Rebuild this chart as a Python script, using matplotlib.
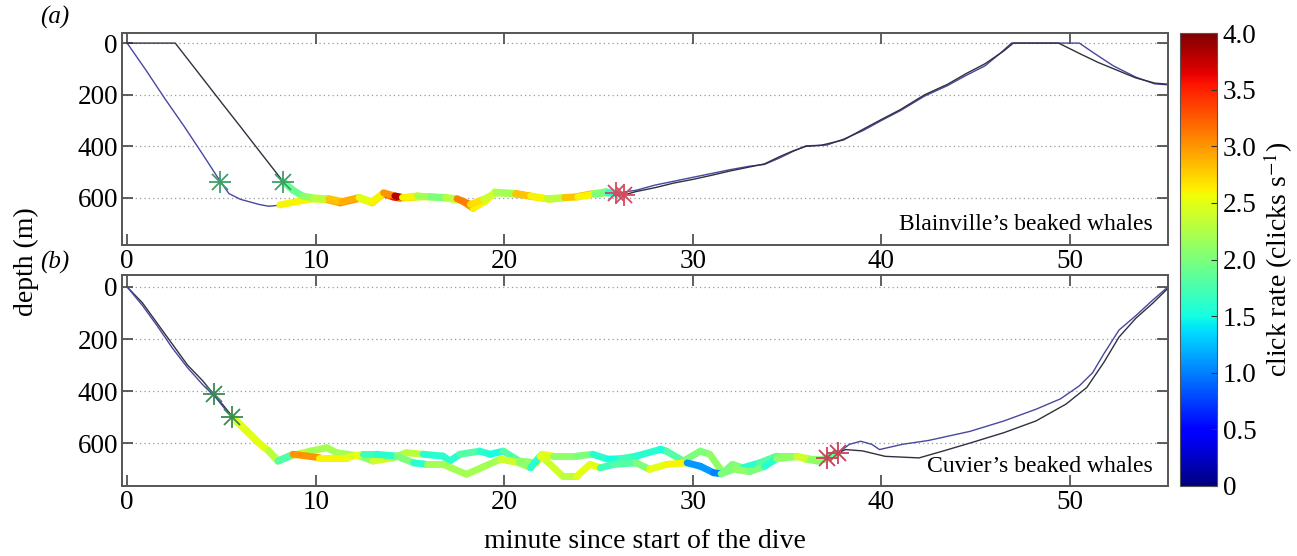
import numpy as np
import matplotlib
matplotlib.use("Agg")
from matplotlib import pyplot as plt
from matplotlib.collections import LineCollection
from matplotlib.colors import Normalize

plt.rcParams['font.family'] = ['Liberation Serif', 'DejaVu Serif']
plt.rcParams['mathtext.fontset'] = 'stix'

############## Data ##############

# (a) Blainville's beaked whales
a1_desc_x = [0, 1, 2, 3, 4, 4.95, 5.4, 6, 7, 7.5, 8.1]
a1_desc_y = [0, 105, 215, 320, 430, 537, 583, 605, 625, 632, 628]
a2_desc_x = [0, 2.55, 4, 5, 6, 7, 8.28]
a2_desc_y = [0, 0, 136, 230, 323, 417, 537]

a1_x = [8.1, 9.0, 9.8, 10.6, 11.3, 12.3, 13.0, 13.6, 14.1, 14.5, 15.3, 16.0, 17.0,
        17.8, 18.35, 19.0, 19.5, 20.6, 21.5, 22.4, 23.2, 23.9, 24.7, 25.4, 25.95]
a1_y = [627, 614, 604, 607, 619, 602, 619, 584, 596, 601, 597, 595, 601,
        612, 640, 612, 577, 582, 595, 605, 600, 594, 583, 576, 581]
a1_rate = [2.6, 2.6, 2.4, 2.9, 3.0, 2.6, 2.7, 3.2, 3.6, 2.7, 2.4, 2.1, 2.4,
           3.0, 2.6, 2.5, 2.3, 2.9, 2.7, 2.4, 2.5, 2.9, 2.1, 1.8, 1.7]

a2_x = [8.28, 8.8, 9.3, 9.9, 10.7, 11.4, 12.3, 13.0, 13.6, 14.2, 14.6, 15.4, 16.1,
        16.9, 17.5, 18.2, 18.9, 19.6, 20.6, 21.4, 22.3, 23.2, 23.9, 24.8, 25.5, 26.35]
a2_y = [537, 570, 592, 600, 603, 614, 598, 614, 580, 592, 598, 592, 596,
        598, 603, 625, 605, 580, 585, 592, 603, 598, 596, 585, 580, 588]
a2_rate = [1.9, 1.9, 2.1, 2.3, 2.8, 2.9, 2.5, 2.6, 3.0, 3.8, 2.6, 2.2, 2.0,
           2.3, 3.1, 2.7, 2.4, 2.2, 2.8, 2.6, 2.3, 2.8, 2.6, 2.0, 1.6, 1.7]

a1_asc_x = [25.95, 27, 28, 29, 30, 31, 32, 33, 33.8, 34.6, 35.3, 36.0, 37.1, 38, 39, 40,
            41, 42.3, 43.5, 44.5, 45.5, 46.3, 46.9, 50.5, 51.2, 52.3, 53.5, 54.5, 55.3]
a1_asc_y = [581, 570, 550, 535, 520, 505, 490, 477, 470, 445, 420, 398, 395, 372, 340, 300,
            262, 205, 165, 125, 88, 40, 0, 0, 35, 88, 132, 158, 162]
a2_asc_x = [26.35, 27, 28, 29, 30, 31, 32, 33, 33.8, 34.6, 35.3, 36.0, 36.8, 38, 39, 40,
            41, 42.3, 43.5, 44.5, 45.5, 46.5, 47.0, 49.4, 50.5, 51.5, 52.5, 53.5, 54.5, 55.3]
a2_asc_y = [588, 575, 560, 542, 528, 512, 495, 480, 468, 440, 418, 400, 396, 375, 335, 296,
            258, 200, 160, 118, 80, 30, 0, 0, 40, 75, 105, 135, 155, 160]

# (b) Cuvier's beaked whales
b1_desc_x = [0, 0.8, 1.6, 2.4, 3.2, 4.0, 4.59, 5.1, 5.6]
b1_desc_y = [0, 60, 140, 220, 300, 360, 412, 455, 500]
b2_desc_x = [0, 0.8, 1.6, 2.4, 3.2, 4.0, 4.7, 5.2, 5.57]
b2_desc_y = [0, 70, 150, 235, 310, 375, 425, 470, 500]

b1_x = [5.6, 6.3, 7.0, 7.6, 8.0, 8.64, 9.7, 10.6, 11.1, 12.35, 13.05, 14.1, 14.8, 15.7,
        16.75, 17.1, 17.65, 18.7, 19.25, 19.95, 20.8, 21.7, 22.0, 22.6, 23.85, 24.7, 25.5,
        26.2, 27.0, 28.3, 28.6, 29.5, 30.4, 30.9, 31.6, 32.1, 32.65, 33.55, 34.45, 35.5,
        36.0, 36.6, 37.1]
b1_y = [500, 550, 600, 637, 669, 650, 631, 618, 637, 650, 669, 657, 637, 643,
        650, 669, 643, 631, 643, 631, 669, 676, 643, 650, 650, 643, 662,
        660, 650, 624, 631, 669, 631, 643, 714, 682, 695, 676, 650, 650,
        662, 669, 657]
b1_rate = [2.4, 2.4, 2.4, 2.3, 1.7, 2.3, 2.2, 2.2, 2.2, 2.1, 2.4, 2.2, 2.3, 1.6,
           1.6, 1.6, 1.8, 1.6, 1.5, 1.8, 2.1, 2.5, 2.5, 2.1, 2.0, 1.6, 1.5,
           1.7, 1.6, 1.5, 1.8, 2.0, 2.0, 2.1, 2.0, 2.0, 1.6, 1.8, 2.0, 2.5,
           2.1, 1.9, 1.9]

b2_x = [5.57, 6.2, 6.9, 7.5, 8.0, 8.8, 10.2, 11.65, 12.5, 13.2, 14.3, 15.2, 15.9, 16.75,
        18.0, 19.8, 20.8, 21.4, 21.9, 22.25, 23.1, 23.85, 24.55, 25.1, 25.8, 27.0, 27.7,
        28.6, 29.7, 30.4, 31.1, 31.5, 32.2, 33.0, 33.8, 34.45, 35.5, 36.2, 37.0, 37.7]
b2_y = [500, 545, 595, 630, 669, 643, 656, 656, 643, 643, 650, 676, 682, 682,
        720, 662, 676, 695, 650, 669, 727, 727, 682, 695, 682, 676, 701,
        682, 676, 689, 714, 718, 700, 710, 690, 660, 652, 660, 660, 638]
b2_rate = [2.5, 2.5, 2.5, 2.3, 1.8, 3.0, 2.6, 2.5, 1.7, 1.6, 2.0, 1.6, 2.2, 2.2,
           2.2, 2.4, 2.1, 1.6, 2.5, 2.4, 2.3, 2.5, 2.5, 1.7, 1.8, 2.0, 2.5,
           2.6, 1.1, 1.1, 1.0, 2.0, 2.1, 2.0, 1.6, 2.1, 2.4, 2.1, 1.9, 2.0]

b1_asc_x = [37.7, 38.3, 38.9, 39.5, 39.9, 41.1, 42.5, 44.7, 46.5, 48.2, 49.5, 50.5,
            51.2, 51.8, 52.6, 53.5, 54.4, 55.2]
b1_asc_y = [638, 605, 593, 605, 625, 605, 590, 555, 515, 470, 430, 380,
            330, 257, 166, 110, 50, 0]
b2_asc_x = [37.1, 38.1, 39.0, 40.2, 42.0, 43.3, 44.7, 46.5, 48.2, 49.8, 50.9, 51.8,
            52.6, 53.5, 54.4, 55.2]
b2_asc_y = [657, 625, 630, 651, 657, 630, 600, 560, 515, 450, 386, 290,
            193, 120, 62, 5]

depth_ticks = [0, 200, 400, 600]
minute_ticks = [0, 10, 20, 30, 40, 50]
rate_ticks = [0, 0.5, 1.0, 1.5, 2.0, 2.5, 3.0, 3.5, 4.0]
rate_labels = ['0', '0.5', '1.0', '1.5', '2.0', '2.5', '3.0', '3.5', '4.0']

############## Plot ##############

cmap = plt.get_cmap('jet')
norm = Normalize(0, 4)
blue_line = '#4848a0'
dark_line = '#303040'


def rate_line(ax, x, y, rate):
    pts = np.column_stack([x, y]).reshape(-1, 1, 2)
    segs = np.concatenate([pts[:-1], pts[1:]], axis=1)
    lc = LineCollection(segs, cmap=cmap, norm=norm, linewidths=5.0,
                        capstyle='round', joinstyle='round', zorder=3)
    lc.set_array(np.asarray(rate[:-1]))
    ax.add_collection(lc)


def star(ax, x, y, color):
    ax.plot(x, y, '+', ms=16, mew=1.3, color=color, zorder=5)
    ax.plot(x, y, 'x', ms=12, mew=1.3, color=color, zorder=5)


def style_axis(ax, ylim):
    ax.set_xlim(-0.27, 55.2)
    ax.set_ylim(ylim)
    ax.set_xticks(minute_ticks)
    ax.set_yticks(depth_ticks)
    for y in depth_ticks:
        ax.axhline(y, color='#999999', ls=(0, (1, 2.5)), lw=0.9, zorder=1)
    ax.tick_params(direction='in', top=True, right=True, length=8,
                   width=1.2, color='#444444', labelsize=19.5, pad=3)
    for s in ax.spines.values():
        s.set_color('#555555')
        s.set_linewidth(1.4)


fig = plt.figure(figsize=(12.97, 5.56), dpi=100)
ax1 = fig.add_axes([0.0941, 0.5594, 0.8064, 0.3812])
ax2 = fig.add_axes([0.0941, 0.1259, 0.8064, 0.3795])
cax = fig.add_axes([0.9098, 0.1259, 0.0285, 0.8147])

# (a)
style_axis(ax1, (782, -39))
ax1.plot(a1_desc_x, a1_desc_y, color=blue_line, lw=1.0, zorder=2)
ax1.plot(a2_desc_x, a2_desc_y, color=dark_line, lw=1.0, zorder=2)
ax1.plot(a1_asc_x, a1_asc_y, color=blue_line, lw=1.0, zorder=2)
ax1.plot(a2_asc_x, a2_asc_y, color=dark_line, lw=1.0, zorder=2)
rate_line(ax1, a1_x, a1_y, a1_rate)
rate_line(ax1, a2_x, a2_y, a2_rate)
star(ax1, [a1_desc_x[5], a2_desc_x[-1]], [a1_desc_y[5], a2_desc_y[-1]], '#3f9f6a')
star(ax1, [a1_x[-1], a2_x[-1]], [a1_y[-1], a2_y[-1]], '#d8485f')
ax1.text(0.985, 0.045, 'Blainville\u2019s beaked whales', transform=ax1.transAxes,
         ha='right', va='bottom', fontsize=17)

# (b)
style_axis(ax2, (765, -46))
ax2.plot(b1_desc_x, b1_desc_y, color=dark_line, lw=1.0, zorder=2)
ax2.plot(b2_desc_x, b2_desc_y, color=blue_line, lw=1.0, zorder=2)
ax2.plot(b1_asc_x, b1_asc_y, color=blue_line, lw=1.0, zorder=2)
ax2.plot(b2_asc_x, b2_asc_y, color=dark_line, lw=1.0, zorder=2)
rate_line(ax2, b1_x, b1_y, b1_rate)
rate_line(ax2, b2_x, b2_y, b2_rate)
star(ax2, [b1_desc_x[6], b2_desc_x[-1]], [b1_desc_y[6], b2_desc_y[-1]], '#3a8a55')
star(ax2, [b1_x[-1], b2_x[-1]], [b1_y[-1], b2_y[-1]], '#c8405a')
ax2.text(0.985, 0.045, 'Cuvier\u2019s beaked whales', transform=ax2.transAxes,
         ha='right', va='bottom', fontsize=17)
ax2.set_xlabel('minute since start of the dive', fontsize=20, labelpad=10)

fig.text(0.031, 0.968, '(a)', style='italic', fontsize=18, ha='left', va='center')
fig.text(0.031, 0.528, '(b)', style='italic', fontsize=18, ha='left', va='center')
fig.text(0.02, 0.53, 'depth (m)', rotation=90, fontsize=20, ha='center', va='center')

# colour bar
sm = plt.cm.ScalarMappable(norm=norm, cmap=cmap)
cb = fig.colorbar(sm, cax=cax)
cb.set_ticks(rate_ticks)
cb.set_ticklabels(rate_labels)
cb.ax.tick_params(direction='in', length=4, labelsize=19.5, color='#333333', pad=4)
cb.outline.set_edgecolor('#555555')
cb.set_label('click rate (clicks s$^{-1}$)', fontsize=20, labelpad=4)

plt.savefig('out.png', dpi=100)
